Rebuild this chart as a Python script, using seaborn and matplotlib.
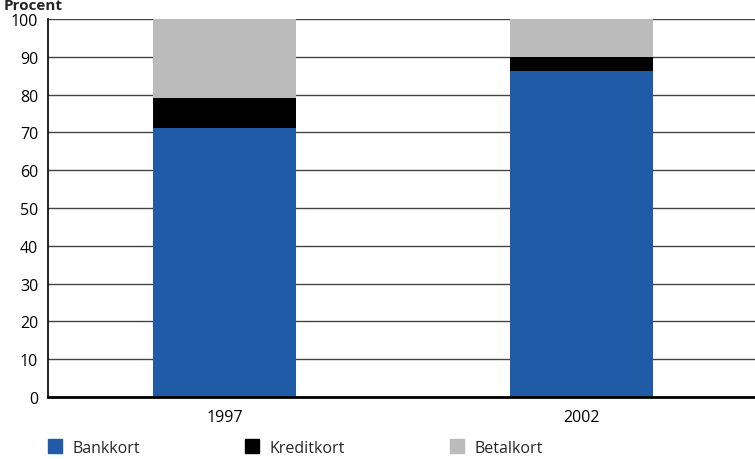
import matplotlib
matplotlib.use("Agg")
import matplotlib.pyplot as plt
import seaborn as sns
import pandas as pd
import numpy as np
from matplotlib.lines import Line2D

# Data
years = ["1997", "2002"]
bankkort = [71.2, 86.3]
kreditkort = [8.0, 3.7]
betalkort = [20.8, 10.0]

series_names = ["Bankkort", "Kreditkort", "Betalkort"]
colors = ["#1f5ba7", "#000000", "#bbbbbb"]

sns.set_style("white")
plt.rcParams['font.family'] = ['Open Sans', 'DejaVu Sans']

df = pd.DataFrame({"year": years, "Bankkort": bankkort,
                   "Kreditkort": kreditkort, "Betalkort": betalkort})
cum = df[series_names].cumsum(axis=1)

fig = plt.figure(figsize=(7.55, 4.6), dpi=100)
ax = fig.add_axes([0.0636, 0.1348, 0.9364, 0.8217])

# stacked: draw totals first, then overlay smaller cumulative sums
for name, col in zip(series_names[::-1], colors[::-1]):
    sns.barplot(x=df["year"], y=cum[name], color=col, width=0.4,
                saturation=1, linewidth=0, ax=ax, zorder=3)

ax.set_ylim(0, 100)
ax.set_xlim(-0.495, 1.485)
ax.set_yticks(np.arange(0, 101, 10))
ax.yaxis.grid(True, color="#444444", linewidth=1)
ax.set_axisbelow(True)
ax.set_xlabel("")
ax.set_ylabel("")
for s in ["top", "right"]:
    ax.spines[s].set_visible(False)
ax.spines["left"].set_color("black")
ax.spines["left"].set_linewidth(1.2)
ax.spines["bottom"].set_color("black")
ax.spines["bottom"].set_linewidth(2)
ax.spines["bottom"].set_zorder(5)
ax.tick_params(axis="both", length=0, labelsize=11.5, colors="black", pad=7)
ax.tick_params(axis="x", pad=9)

fig.text(0.005, 0.986, "Procent", fontsize=11, fontweight="bold", va="center", ha="left")

handles = [Line2D([], [], marker="s", linestyle="none", markersize=10,
                  markerfacecolor=c, markeredgecolor=c) for c in colors]
fig.legend(handles, series_names, ncol=3, loc="center left",
           bbox_to_anchor=(0.05, 0.024), frameon=False, fontsize=11.5,
           handletextpad=0.6, columnspacing=6.5, handlelength=1.0,
           borderpad=0.1)

fig.savefig("out.png", dpi=100)
